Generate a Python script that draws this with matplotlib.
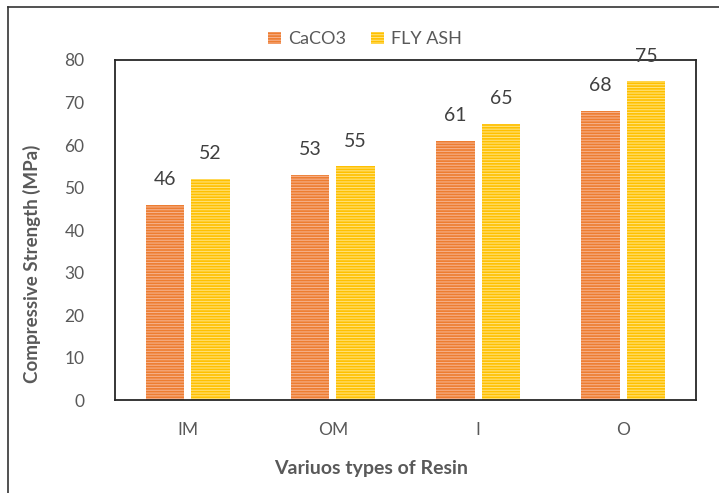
import matplotlib
matplotlib.use("Agg")
import matplotlib.pyplot as plt
import numpy as np
from matplotlib.lines import Line2D

# resin types and measured compressive strengths (MPa)
resins = ["IM", "OM", "I", "O"]
caco3 = [46, 53, 61, 68]
fly_ash = [52, 55, 65, 75]

plt.rcParams['font.family'] = ['Lato', 'DejaVu Sans']
plt.rcParams['hatch.linewidth'] = 0.8

fig = plt.figure(figsize=(7.19, 4.93), dpi=100)
ax = fig.add_axes([0.160, 0.1886, 0.808, 0.6897])

x = np.arange(len(resins))
w = 0.265
off = 0.157

b1 = ax.bar(x - off, caco3, w, color="#ED7D31", edgecolor="#F6B08A",
            linewidth=0, hatch="------", label="CaCO3")
b2 = ax.bar(x + off, fly_ash, w, color="#FFC000", edgecolor="#FFE27A",
            linewidth=0, hatch="------", label="FLY ASH")

for bars, vals in ((b1, caco3), (b2, fly_ash)):
    for rect, v in zip(bars, vals):
        ax.annotate(str(v), (rect.get_x() + rect.get_width() / 2, v),
                    xytext=(0, 12), textcoords="offset points",
                    ha="center", va="bottom", fontsize=14, color="#404040",
                    annotation_clip=False)

ax.set_xlim(-0.5, 3.5)
ax.set_ylim(0, 80)
ax.set_yticks(range(0, 81, 10))
ax.set_xticks(x)
ax.set_xticklabels(resins)
ax.tick_params(axis="both", length=0, labelsize=12.5, labelcolor="#595959")
ax.tick_params(axis="x", pad=16)
ax.tick_params(axis="y", pad=22)

for s in ax.spines.values():
    s.set_color("#262626")
    s.set_linewidth(1.3)

ax.set_ylabel("Compressive Strength (MPa)", fontsize=13.5, fontweight="bold",
              color="#595959", labelpad=8)
ax.yaxis.set_label_coords(-0.128, 0.40)
ax.set_xlabel("Variuos types of Resin", fontsize=14, fontweight="bold",
              color="#595959")
ax.xaxis.set_label_coords(0.44, -0.175)

leg = ax.legend(loc="lower center", bbox_to_anchor=(0.43, 1.0), ncol=2,
                frameon=False, fontsize=13, handlelength=0.7, handleheight=0.7,
                columnspacing=1.4, handletextpad=0.4, borderaxespad=0.3)
for t in leg.get_texts():
    t.set_color("#595959")

# outer frame lines along the top and left edges
fig.add_artist(Line2D([8 / 719, 8 / 719], [0, 1 - 7 / 493],
                      transform=fig.transFigure, color="#333333", lw=1.2))
fig.add_artist(Line2D([8 / 719, 1], [1 - 7 / 493, 1 - 7 / 493],
                      transform=fig.transFigure, color="#333333", lw=1.2))

fig.savefig("out.png", dpi=100)
